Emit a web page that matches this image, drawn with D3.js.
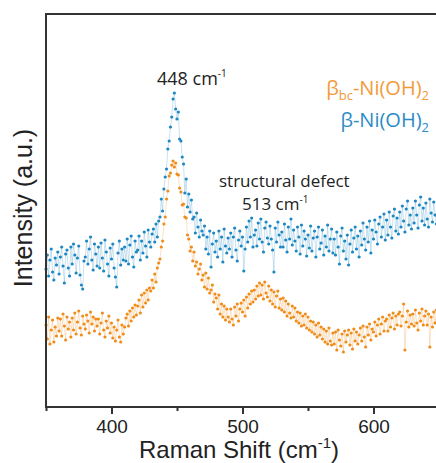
<!DOCTYPE html>
<html lang="en">
<head>
    <meta charset="UTF-8">
    <title>Raman spectra of Ni(OH)2</title>
    <script src="https://d3js.org/d3.v7.min.js"></script>
    <style>
        body { margin: 0; background: #fff; }
        svg { display: block; }
        .tick text { font-family: "Liberation Sans", Arial, sans-serif; }
    </style>
</head>
<body>
    <svg></svg>
    <script>
        // Raman shift grid (cm-1), one point per wavenumber from 350 to 650
        const shiftStart = 350;
        const shiftStep = 1;

        // beta-Ni(OH)2 intensity (a.u.)
        const betaValues = [
            138, 152, 131, 147, 158, 135, 127, 149, 142, 155,
            133, 150, 160, 141, 124, 153, 157, 139, 131, 160,
            143, 163, 152, 134, 149, 161, 132, 122, 118, 146,
            150, 166, 143, 158, 170, 147, 137, 163, 153, 141,
            160, 139, 164, 149, 136, 167, 155, 143, 131, 159,
            148, 163, 139, 130, 120, 154, 166, 142, 158, 147,
            160, 146, 168, 143, 162, 171, 150, 140, 166, 155,
            157, 171, 147, 166, 154, 175, 161, 150, 177, 165,
            160, 173, 178, 165, 183, 170, 186,
            190, 208, 196, 218, 230,
            238, 258, 266, 280,
            290, 308, 314, 298,
            288, 295, 268,
            266, 250, 243,
            214, 228, 200,
            213, 195, 207, 188,
            190, 174, 194, 180, 170, 187, 176,
            172, 181, 158, 170, 153, 176, 140, 163, 174, 155,
            166, 150, 176, 158, 170, 145, 178, 161, 154, 169,
            158, 174, 150, 170, 179, 157, 146, 167, 176, 161,
            170, 136, 158, 180, 165, 186, 170, 189, 160, 172,
            177, 161, 184, 168, 188, 165, 155, 179, 185, 169,
            163, 181, 168, 157, 135, 179, 165, 185, 172, 160,
            175, 160, 183, 167, 155, 180, 168, 188, 162, 177,
            166, 156, 180, 170, 153, 182, 161, 176, 168, 151,
            172, 159, 181, 156, 169, 176, 150, 170, 180, 158,
            164, 177, 152, 171, 160, 182, 156, 168, 178, 154,
            168, 152, 175, 160, 143, 171, 179, 156, 166, 148,
            172, 142, 163, 177, 155, 169, 180, 158, 171, 150,
            176, 162, 184, 168, 157, 180, 165, 186, 154, 177,
            168, 187, 175, 163, 183, 190, 170, 180, 193, 167,
            187, 172, 195, 180, 169, 191, 198, 176, 189, 173,
            195, 180, 201, 186, 175, 198, 206, 182, 192, 178,
            199, 184, 206, 192, 179, 202, 210, 186, 199, 182,
            204, 188, 180, 208, 194, 185, 205, 192, 183, 201, 191
        ];

        // beta_bc-Ni(OH)2 intensity (a.u.)
        const betaBcValues = [
            82, 68, 90, 63, 77, 87, 65, 80, 71, 89,
            76, 88, 71, 93, 81, 67, 90, 78, 85, 70,
            89, 77, 94, 73, 85, 96, 79, 72, 91, 83,
            78, 92, 86, 74, 95, 83, 90, 76, 88, 81,
            88, 73, 84, 94, 77, 70, 86, 79, 91, 74,
            84, 69, 80, 66, 77, 87, 70, 65, 82, 73,
            80, 89, 93, 81, 96, 86, 99, 90, 102, 92,
            101, 107, 94, 112, 100, 114, 104, 117, 107, 119,
            116, 127, 119, 133, 125, 139, 144,
            148, 160, 166, 183, 190,
            208, 216, 231, 234,
            242, 246, 240, 244, 233,
            232, 219, 215, 202,
            203, 190, 189, 172,
            168, 156, 160, 146, 155, 141,
            145, 133, 138, 143, 127,
            132, 120, 134, 118, 129,
            114, 117, 122, 105, 113,
            109, 98, 112, 93, 103, 90, 101, 87, 98, 90,
            85, 98, 88, 82, 100, 91, 103, 86, 98, 104,
            95, 107, 91, 110, 99, 113, 103, 116, 105, 117,
            108, 121, 111, 124, 112, 122, 108, 125, 114, 110,
            121, 106, 117, 103, 115, 100, 111, 116, 99, 108,
            97, 109, 95, 106, 91, 103, 94, 89, 101, 90,
            99, 86, 95, 84, 94, 81, 91, 82, 93, 79,
            90, 77, 86, 75, 85, 73, 82, 70, 84, 72,
            80, 68, 78, 65, 76, 63, 79, 66, 62, 74,
            63, 75, 57, 77, 67, 61, 73, 55, 76, 65,
            72, 77, 62, 74, 58, 78, 66, 75, 63, 72,
            79, 66, 81, 70, 60, 80, 72, 83, 67, 78,
            75, 85, 71, 82, 88, 73, 83, 90, 76, 86,
            88, 76, 92, 80, 89, 94, 78, 91, 82, 93,
            95, 81, 91, 103, 57, 85, 96, 80, 92, 83,
            93, 81, 97, 84, 77, 94, 86, 98, 82, 91,
            96, 82, 93, 60, 90, 80, 95, 84, 97, 81, 92
        ];

        const majorTicks = [400, 500, 600];
        const minorTicks = [350, 450, 550, 650];

        const W = 436, H = 463;
        const margin = { top: 14, left: 46 };
        const width = 393, height = 393;

        const x = d3.scaleLinear().domain([350, 650]).range([0, width]);
        const y = d3.scaleLinear().domain([0, 393]).range([height, 0]);

        const svg = d3.select("svg")
            .attr("width", W)
            .attr("height", H);

        const g = svg.append("g")
            .attr("transform", `translate(${margin.left},${margin.top})`);

        const toPoints = vals => vals.map((v, i) => ({ shift: shiftStart + i * shiftStep, value: v }));

        const series = [
            { key: "betaBc", points: toPoints(betaBcValues), color: "#F08C1A" },
            { key: "beta", points: toPoints(betaValues), color: "#1C87C2" }
        ];

        const line = d3.line()
            .x(d => x(d.shift))
            .y(d => y(d.value));

        series.forEach(s => {
            g.append("path")
                .datum(s.points)
                .attr("fill", "none")
                .attr("stroke", s.color)
                .attr("stroke-opacity", 0.3)
                .attr("stroke-width", 0.8)
                .attr("d", line);

            g.append("g")
                .selectAll("circle")
                .data(s.points)
                .enter()
                .append("circle")
                .attr("cx", d => x(d.shift))
                .attr("cy", d => y(d.value))
                .attr("r", 1.6)
                .attr("fill", s.color);
        });

        // frame
        g.append("rect")
            .attr("width", width)
            .attr("height", height)
            .attr("fill", "none")
            .attr("stroke", "#333")
            .attr("stroke-width", 2);

        // x axis: labelled major ticks + short minor ticks
        const xMajor = g.append("g")
            .attr("transform", `translate(0,${height})`)
            .call(d3.axisBottom(x).tickValues(majorTicks).tickSize(7).tickPadding(6).tickFormat(d3.format("d")));
        xMajor.select(".domain").remove();
        xMajor.selectAll(".tick line").attr("stroke", "#333").attr("stroke-width", 2);
        xMajor.selectAll(".tick text").attr("font-size", 19).attr("fill", "#222");

        const xMinor = g.append("g")
            .attr("transform", `translate(0,${height})`)
            .call(d3.axisBottom(x).tickValues(minorTicks).tickSize(4).tickFormat(""));
        xMinor.select(".domain").remove();
        xMinor.selectAll(".tick line").attr("stroke", "#333").attr("stroke-width", 2);

        // axis titles
        const xTitle = svg.append("text")
            .attr("x", 239)
            .attr("y", 458)
            .attr("text-anchor", "middle")
            .attr("font-family", "'Liberation Sans', Arial, sans-serif")
            .attr("font-size", 24)
            .attr("fill", "#222");
        xTitle.append("tspan").text("Raman Shift (cm");
        xTitle.append("tspan").attr("font-size", 15).attr("dy", -10).text("-1");
        xTitle.append("tspan").attr("dy", 10).text(")");

        svg.append("text")
            .attr("transform", "translate(32,208) rotate(-90)")
            .attr("text-anchor", "middle")
            .attr("font-family", "'Liberation Sans', Arial, sans-serif")
            .attr("font-size", 25)
            .attr("fill", "#222")
            .text("Intensity (a.u.)");

        // annotations
        const annoFont = "'Open Sans', 'Noto Sans', sans-serif";

        const peakLabel = svg.append("text")
            .attr("x", 157).attr("y", 85)
            .attr("font-family", annoFont)
            .attr("font-size", 18)
            .attr("fill", "#222");
        peakLabel.append("tspan").text("448 cm");
        peakLabel.append("tspan").attr("font-size", 10).attr("dy", -8).text("-1");

        svg.append("text")
            .attr("x", 219).attr("y", 187)
            .attr("font-family", annoFont)
            .attr("font-size", 17)
            .attr("fill", "#222")
            .text("structural defect");

        const defectLabel = svg.append("text")
            .attr("x", 242).attr("y", 210)
            .attr("font-family", annoFont)
            .attr("font-size", 17)
            .attr("fill", "#222");
        defectLabel.append("tspan").text("513 cm");
        defectLabel.append("tspan").attr("font-size", 10).attr("dy", -7).text("-1");

        // legend
        const legBc = svg.append("text")
            .attr("x", 429).attr("y", 95)
            .attr("text-anchor", "end")
            .attr("font-family", annoFont)
            .attr("font-size", 20)
            .attr("fill", "#F39A38");
        legBc.append("tspan").text("β");
        legBc.append("tspan").attr("font-size", 13).attr("dy", 5).text("bc");
        legBc.append("tspan").attr("dy", -5).text("-Ni(OH)");
        legBc.append("tspan").attr("font-size", 13).attr("dy", 5).text("2");

        const legB = svg.append("text")
            .attr("x", 429).attr("y", 127)
            .attr("text-anchor", "end")
            .attr("font-family", annoFont)
            .attr("font-size", 20)
            .attr("fill", "#2A8CC6");
        legB.append("tspan").text("β-Ni(OH)");
        legB.append("tspan").attr("font-size", 13).attr("dy", 5).text("2");
    </script>
</body>
</html>
